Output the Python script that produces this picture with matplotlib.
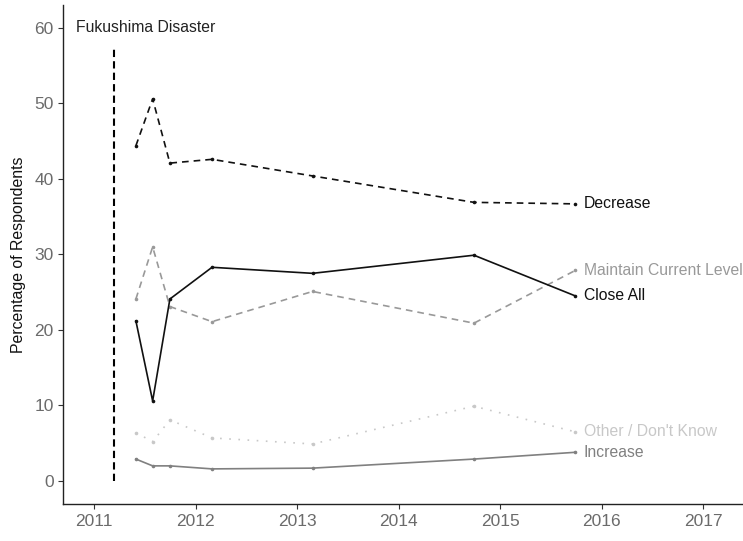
import matplotlib
matplotlib.use("Agg")
import matplotlib.pyplot as plt

plt.rcParams['font.family'] = ['Liberation Sans', 'DejaVu Sans']

# Survey dates (decimal years)
dates = [2011.41, 2011.575, 2011.745, 2012.16, 2013.15, 2014.74, 2015.74]

decrease = [44.4, 50.6, 42.1, 42.6, 40.4, 36.9, 36.7]
close_all = [21.2, 10.6, 24.1, 28.3, 27.5, 29.9, 24.5]
maintain = [24.1, 31.0, 23.1, 21.1, 25.1, 20.9, 27.9]
other = [6.4, 5.2, 8.1, 5.7, 4.9, 9.9, 6.5]
increase = [2.9, 2.0, 2.0, 1.6, 1.7, 2.9, 3.8]

series_names = ["Decrease", "Maintain Current Level", "Close All", "Other / Don't Know", "Increase"]
series_values = [decrease, maintain, close_all, other, increase]
series_colors = ["#111111", "#999999", "#111111", "#c8c8c8", "#808080"]
series_styles = [(0, (4, 3)), (0, (4, 3)), "-", (0, (1, 4.5)), "-"]

fukushima_x = 2011.19
fukushima_top = 57.5
year_ticks = [2011, 2012, 2013, 2014, 2015, 2016, 2017]
y_ticks = [0, 10, 20, 30, 40, 50, 60]

fig = plt.figure(figsize=(7.43, 5.41), dpi=100)
ax = fig.add_axes([63.3 / 743, 37 / 541, 1 - 63.3 / 743, (504 - 5.3) / 541])

ax.plot([fukushima_x, fukushima_x], [0, fukushima_top], color="black",
        linewidth=1.5, linestyle=(0, (3.5, 2)))
ax.text(2011.51, 60, "Fukushima Disaster", ha="center", va="center",
        fontsize=11.3, color="#222222")

for name, vals, col, ls in zip(series_names, series_values, series_colors, series_styles):
    ax.plot(dates, vals, color=col, linestyle=ls, linewidth=1.2,
            marker="o", markersize=2.6, markeredgewidth=0)
    ax.annotate(name, xy=(dates[-1], vals[-1]), xytext=(6, 0),
                textcoords="offset points", ha="left", va="center",
                fontsize=11.3, color=col, annotation_clip=False, clip_on=False)

ax.set_xlim(2010.695, 2017.39)
ax.set_ylim(-3.05, 63)
ax.set_xticks(year_ticks)
ax.set_xticklabels([str(y) for y in year_ticks])
ax.set_yticks(y_ticks)
ax.tick_params(axis="both", colors="#333333", labelcolor="#6b6b6b",
               labelsize=12.5, length=3.5, width=0.8)
ax.set_ylabel("Percentage of Respondents", fontsize=11.4, color="#111111", labelpad=6)

for s in ["top", "right"]:
    ax.spines[s].set_visible(False)
for s in ["left", "bottom"]:
    ax.spines[s].set_color("#222222")
    ax.spines[s].set_linewidth(1.0)

fig.savefig("out.png", dpi=100)
